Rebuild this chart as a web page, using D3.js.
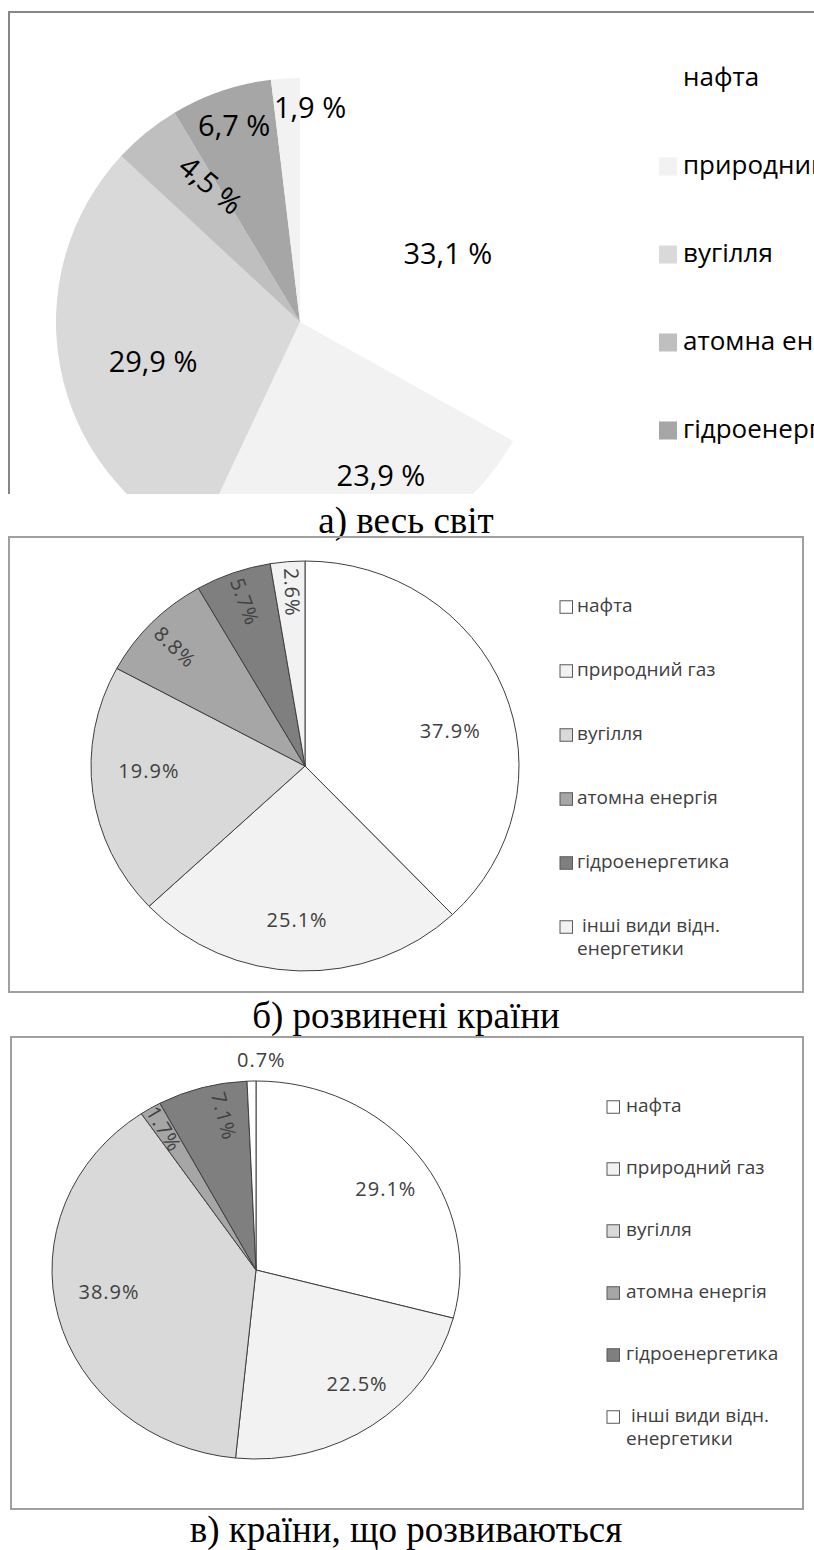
<!DOCTYPE html>
<html><head><meta charset="utf-8">
<script src="https://cdn.jsdelivr.net/npm/d3@7"></script>
<style>
html,body{margin:0;padding:0;background:#fff;}
svg{display:block;}
</style>
</head><body>
<svg id="chart" width="814" height="1550"></svg>
<script>
// ---------- data ----------
const categories = ["нафта", "природний газ", "вугілля", "атомна енергія", "гідроенергетика", "інші види відн. енергетики"];
const worldValues = [33.1, 23.9, 29.9, 4.5, 6.7, 1.9];
const developedValues = [37.9, 25.1, 19.9, 8.8, 5.7, 2.6];
const developingValues = [29.1, 22.5, 38.9, 1.7, 7.1, 0.7];
const titles = ["а) весь світ", "б) розвинені країни", "в) країни, що розвиваються"];

// ---------- layout / style ----------
const panels = [
  {
    values: worldValues, fmt: v => d3.format(".1f")(v).replace(".", ",") + " %",
    cx: 300, cy: 322, rx: 244, ry: 244,
    frame: "open", fx: 9, fy: 12, fw: 805, fh: 482,
    colors: ["#ffffff", "#f2f2f2", "#d9d9d9", "#bfbfbf", "#a6a6a6", "#f2f2f2"],
    stroke: "none",
    labelFont: 29, labelColor: "#000", labelSpacing: 0,
    labelR: [0.667, 0.713, 0.624, 0.67, 0.85, 0.88],
    labelDA: [5.7, -9.9, -4.2, 6, 0.4, 6.1],
    labelRot: [0, 0, 0, 40, 0, 0],
    legendN: 5, legMx: 659, legSize: 18, legTx: 683, legY0: 78.5, legStep: 88, legFont: 26, legColor: "#000", legStroke: "none",
    titleY: 533
  },
  {
    values: developedValues, fmt: v => d3.format(".1f")(v) + "%",
    cx: 305, cy: 766, rx: 214, ry: 205,
    frame: "rect", fx: 9, fy: 537, fw: 794, fh: 455,
    colors: ["#ffffff", "#f2f2f2", "#d9d9d9", "#a6a6a6", "#7f7f7f", "#f2f2f2"],
    stroke: "#3f3f3f",
    labelFont: 20, labelColor: "#404040", labelSpacing: 1,
    labelR: [0.70, 0.75, 0.73, 0.84, 0.85, 0.85],
    labelDA: [7.6, 1.2, 5.4, -0.6, 0.3, 0.6],
    labelRot: [0, 0, 0, 44, 70, 88],
    legendN: 6, legMx: 560, legSize: 12.5, legTx: 577, legY0: 607, legStep: 64, legFont: 19, legColor: "#404040", legStroke: "#595959",
    titleY: 1028
  },
  {
    values: developingValues, fmt: v => d3.format(".1f")(v) + "%",
    cx: 256, cy: 1270, rx: 204, ry: 189,
    frame: "rect", fx: 11, fy: 1037, fw: 792, fh: 472,
    colors: ["#ffffff", "#f2f2f2", "#d9d9d9", "#a6a6a6", "#7f7f7f", "#ffffff"],
    stroke: "#3f3f3f",
    labelFont: 20, labelColor: "#404040", labelSpacing: 1,
    labelR: [0.768, 0.78, 0.73, 0.872, 0.83, 1.11],
    labelDA: [3.6, -4.7, 5, 0, 4.4, 2.6],
    labelRot: [0, 0, 0, 59, 75, 0],
    legendN: 6, legMx: 607, legSize: 12.5, legTx: 626, legY0: 1107, legStep: 62, legFont: 19, legColor: "#404040", legStroke: "#595959",
    titleY: 1542
  }
];

const svg = d3.select("#chart");
const pie = d3.pie().sort(null).value(d => d);
const sans = "'Open Sans', 'Noto Sans', sans-serif";

panels.forEach((p, pi) => {
  const g = svg.append("g");
  const clipId = "clip" + pi;
  g.append("clipPath").attr("id", clipId)
    .append("rect").attr("x", p.fx).attr("y", p.fy).attr("width", p.fw).attr("height", p.fh);

  const inner = g.append("g").attr("clip-path", `url(#${clipId})`);
  const arcs = pie(p.values);
  const arc = d3.arc().innerRadius(0).outerRadius(p.rx);

  // slices (ellipse via y-scale)
  inner.append("g")
    .attr("transform", `translate(${p.cx},${p.cy}) scale(1,${p.ry / p.rx})`)
    .selectAll("path").data(arcs).join("path")
    .attr("d", arc)
    .attr("fill", (d, i) => p.colors[i])
    .attr("stroke", p.stroke)
    .attr("stroke-width", 1)
    .attr("vector-effect", "non-scaling-stroke");

  // value labels
  inner.append("g").selectAll("text").data(arcs).join("text")
    .attr("transform", (d, i) => {
      const a = (d.startAngle + d.endAngle) / 2 + p.labelDA[i] * Math.PI / 180;
      const k = p.labelR[i];
      const x = p.cx + p.rx * k * Math.sin(a);
      const y = p.cy - p.ry * k * Math.cos(a);
      return `translate(${x},${y}) rotate(${p.labelRot[i]})`;
    })
    .attr("text-anchor", "middle")
    .attr("dy", "0.36em")
    .attr("font-family", sans)
    .attr("font-size", p.labelFont)
    .attr("letter-spacing", p.labelSpacing)
    .attr("fill", p.labelColor)
    .text(d => p.fmt(d.data));

  // legend
  const leg = inner.append("g");
  const items = categories.slice(0, p.legendN);
  items.forEach((name, i) => {
    const y = p.legY0 + i * p.legStep;
    leg.append("rect")
      .attr("x", p.legMx).attr("y", y - p.legSize / 2)
      .attr("width", p.legSize).attr("height", p.legSize)
      .attr("fill", p.colors[i])
      .attr("stroke", p.legStroke).attr("stroke-width", 1);
    const t = leg.append("text")
      .attr("x", p.legTx).attr("y", y)
      .attr("dy", "0.27em")
      .attr("font-family", sans)
      .attr("font-size", p.legFont)
      .attr("fill", p.legColor)
      .style("white-space", "pre");
    if (name.indexOf(" енергетики") > 0 && p.legendN === 6 && i === 5) {
      const parts = name.split(" енергетики");
      t.append("tspan").attr("x", p.legTx).text(" " + parts[0]);
      t.append("tspan").attr("x", p.legTx).attr("dy", "1.2em").text("енергетики");
    } else {
      t.text(name);
    }
  });

  // frame
  if (p.frame === "open") {
    g.append("path")
      .attr("d", `M${p.fx},${p.fy + p.fh} V${p.fy} H${p.fx + p.fw}`)
      .attr("fill", "none").attr("stroke", "#868686").attr("stroke-width", 2);
  } else {
    g.append("rect")
      .attr("x", p.fx).attr("y", p.fy).attr("width", p.fw).attr("height", p.fh)
      .attr("fill", "none").attr("stroke", "#a0a0a0").attr("stroke-width", 2);
  }

  // caption
  svg.append("text")
    .attr("x", 406).attr("y", p.titleY)
    .attr("text-anchor", "middle")
    .attr("font-family", "'Liberation Serif', 'Times New Roman', serif")
    .attr("font-size", 37)
    .attr("fill", "#000")
    .text(titles[pi]);
});
</script>
</body></html>
